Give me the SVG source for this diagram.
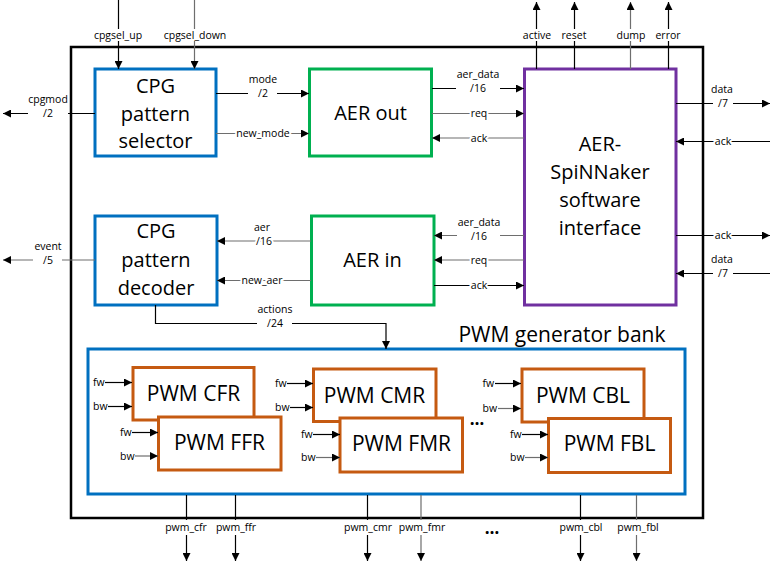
<svg xmlns="http://www.w3.org/2000/svg" width="772" height="562" viewBox="0 0 772 562">
<style>
.bx{fill:#fff;stroke-width:3}
.bl{stroke:#0070C0}.gr{stroke:#00B050}.pu{stroke:#7030A0}.or{stroke:#C55A11}
.big{font-family:"Open Sans",sans-serif;font-size:20px;text-anchor:middle;fill:#000}
.pw{font-size:21px}
.sm{font-family:"Open Sans",sans-serif;font-size:10.5px;text-anchor:middle;fill:#000}
.st{text-anchor:start}
.dots{font-size:17px;font-weight:bold}
.ko{stroke:#fff;stroke-width:4;paint-order:stroke;stroke-linejoin:round}
.ln{fill:none;stroke:#000;stroke-width:1.2}
.gy{stroke:#6e6e6e}
</style>
<defs>
<marker id="a" viewBox="0 0 10 10" refX="10" refY="5" markerWidth="9" markerHeight="8" orient="auto" markerUnits="userSpaceOnUse"><path d="M0,0 L10,5 L0,10 z" fill="#000"/></marker>
</defs>
<rect x="71" y="47" width="632" height="471" fill="#fff" stroke="#000" stroke-width="2.5"/>

<g id="bank">
<rect x="88" y="349" width="597" height="145" fill="none" stroke="#0070C0" stroke-width="3"/>
<text class="big" x="562" y="342" style="font-size:21px">PWM generator bank</text>
</g>

<g id="selector"><rect class="bx bl" x="95" y="69" width="121" height="87"/>
<text class="big" x="155.5" y="93">CPG</text><text class="big" x="155.5" y="121">pattern</text><text class="big" x="155.5" y="148">selector</text></g>
<g id="aerout"><rect class="bx gr" x="309.5" y="69" width="122" height="87"/>
<text class="big" x="370.5" y="120">AER out</text></g>
<g id="spinn"><rect class="bx pu" x="524.5" y="69" width="151.5" height="236"/>
<text class="big" x="600" y="151">AER-</text><text class="big" x="600" y="179">SpiNNaker</text><text class="big" x="600" y="207">software</text><text class="big" x="600" y="235">interface</text></g>
<g id="decoder"><rect class="bx bl" x="95" y="216" width="122" height="89"/>
<text class="big" x="156" y="238">CPG</text><text class="big" x="156" y="267">pattern</text><text class="big" x="156" y="295">decoder</text></g>
<g id="aerin"><rect class="bx gr" x="311.5" y="216" width="122.5" height="89"/>
<text class="big" x="372.5" y="267">AER in</text></g>

<g id="pwm_cfr"><rect class="bx or" x="133" y="367.5" width="121" height="52.5"/><text class="big pw" x="193.5" y="401">PWM CFR</text></g>
<g id="pwm_ffr"><rect class="bx or" x="158.5" y="417" width="122.5" height="53"/><text class="big pw" x="219.5" y="450">PWM FFR</text></g>
<g id="pwm_cmr"><rect class="bx or" x="313.5" y="369" width="122.5" height="52.5"/><text class="big pw" x="374.5" y="402.5">PWM CMR</text></g>
<g id="pwm_fmr"><rect class="bx or" x="340" y="418" width="122.5" height="54"/><text class="big pw" x="401.5" y="451">PWM FMR</text></g>
<g id="pwm_cbl"><rect class="bx or" x="522" y="369" width="122" height="53"/><text class="big pw" x="583" y="403">PWM CBL</text></g>
<g id="pwm_fbl"><rect class="bx or" x="548.5" y="418.5" width="122" height="54"/><text class="big pw" x="609.5" y="451">PWM FBL</text></g>

<g id="connectors">
<path class="ln" d="M118.5,0 V29 M118.5,41 V69" marker-end="url(#a)"/>
<text class="sm" x="118" y="39">cpgsel_up</text>
<path class="ln gy" d="M194.5,0 V29 M194.5,41 V69" marker-end="url(#a)"/>
<text class="sm" x="195" y="39">cpgsel_down</text>
<path class="ln" d="M95,113.5 H68 M28,113.5 H3" marker-end="url(#a)"/>
<text class="sm" x="48" y="103">cpgmod</text><text class="sm" x="48" y="117">/2</text>
<path class="ln" d="M216,93.5 H248 M277,93.5 H309" marker-end="url(#a)"/>
<text class="sm" x="263" y="83">mode</text><text class="sm" x="263" y="97">/2</text>
<path class="ln gy" d="M216,133.5 H309" marker-end="url(#a)"/>
<text class="sm ko" x="263" y="137">new_mode</text>
<path class="ln" d="M432,88.5 H456 M500,88.5 H524" marker-end="url(#a)"/>
<text class="sm" x="478" y="78">aer_data</text><text class="sm" x="478" y="92">/16</text>
<path class="ln gy" d="M432,113.5 H524" marker-end="url(#a)"/>
<text class="sm ko" x="479" y="117">req</text>
<path class="ln gy" d="M524,138 H432" marker-end="url(#a)"/>
<text class="sm ko" x="479" y="141.5">ack</text>
<path class="ln" d="M536.5,69 V41 M536.5,29 V2" marker-end="url(#a)"/>
<text class="sm" x="537" y="39">active</text>
<path class="ln" d="M574.5,69 V41 M574.5,29 V2" marker-end="url(#a)"/>
<text class="sm" x="574" y="39">reset</text>
<path class="ln gy" d="M630.5,69 V41 M630.5,29 V2" marker-end="url(#a)"/>
<text class="sm" x="631" y="39">dump</text>
<path class="ln" d="M668.5,69 V41 M668.5,29 V2" marker-end="url(#a)"/>
<text class="sm" x="668" y="39">error</text>
<path class="ln" d="M676,103.5 H713 M733,103.5 H770" marker-end="url(#a)"/>
<text class="sm" x="722" y="93">data</text><text class="sm" x="723" y="107">/7</text>
<path class="ln" d="M770,141.5 H676" marker-end="url(#a)"/>
<text class="sm ko" x="723" y="145">ack</text>
<path class="ln" d="M676,235.5 H770" marker-end="url(#a)"/>
<text class="sm ko" x="723" y="239">ack</text>
<path class="ln" d="M770,273.5 H733 M713,273.5 H676" marker-end="url(#a)"/>
<text class="sm" x="722" y="263">data</text><text class="sm" x="723" y="277">/7</text>
<path class="ln gy" d="M524,235.5 H500 M457,235.5 H434" marker-end="url(#a)"/>
<text class="sm" x="479" y="226">aer_data</text><text class="sm" x="479" y="240">/16</text>
<path class="ln gy" d="M524,260 H434" marker-end="url(#a)"/>
<text class="sm ko" x="479" y="263.5">req</text>
<path class="ln" d="M434,285.5 H524" marker-end="url(#a)"/>
<text class="sm ko" x="479" y="289">ack</text>
<path class="ln gy" d="M311,241 H217" marker-end="url(#a)"/>
<text class="sm" x="262" y="231">aer</text><text class="sm ko" x="264" y="245">/16</text>
<path class="ln gy" d="M311,280.5 H217" marker-end="url(#a)"/>
<text class="sm ko" x="262" y="284">new_aer</text>
<path class="ln gy" d="M95,260 H62 M33,260 H3" marker-end="url(#a)"/>
<text class="sm" x="48" y="250">event</text><text class="sm" x="48" y="264">/5</text>
<path class="ln" d="M155.5,305 V323.5 H257 M292,323.5 H386 V349" marker-end="url(#a)"/>
<text class="sm" x="275" y="313">actions</text><text class="sm" x="275" y="327">/24</text>
<path class="ln" d="M105,382.5 H132" marker-end="url(#a)"/><text class="sm st" x="93" y="386">fw</text>
<path class="ln" d="M108,406.5 H132" marker-end="url(#a)"/><text class="sm st" x="93" y="410">bw</text>
<path class="ln" d="M132,432.5 H158" marker-end="url(#a)"/><text class="sm st" x="120" y="436">fw</text>
<path class="ln gy" d="M135,456 H158" marker-end="url(#a)"/><text class="sm st" x="120" y="459.5">bw</text>
<path class="ln" d="M287,383.5 H313" marker-end="url(#a)"/><text class="sm st" x="275" y="387">fw</text>
<path class="ln" d="M290,407.5 H313" marker-end="url(#a)"/><text class="sm st" x="275" y="411">bw</text>
<path class="ln" d="M313,434.5 H340" marker-end="url(#a)"/><text class="sm st" x="301" y="438">fw</text>
<path class="ln gy" d="M316,457.5 H340" marker-end="url(#a)"/><text class="sm st" x="301" y="461">bw</text>
<path class="ln" d="M495,383.5 H521" marker-end="url(#a)"/><text class="sm st" x="482.5" y="387">fw</text>
<path class="ln gy" d="M498,408.5 H521" marker-end="url(#a)"/><text class="sm st" x="482.5" y="412">bw</text>
<path class="ln" d="M522,434.5 H548" marker-end="url(#a)"/><text class="sm st" x="510" y="438">fw</text>
<path class="ln gy" d="M525,457.5 H548" marker-end="url(#a)"/><text class="sm st" x="510" y="461">bw</text>
<text class="sm dots" x="477" y="425">…</text>
<path class="ln" d="M186.5,495 V520 M186.5,535 V561" marker-end="url(#a)"/><text class="sm" x="186" y="531">pwm_cfr</text>
<path class="ln" d="M235.5,495 V520 M235.5,535 V561" marker-end="url(#a)"/><text class="sm" x="236" y="531">pwm_ffr</text>
<path class="ln" d="M367.5,495 V520 M367.5,535 V561" marker-end="url(#a)"/><text class="sm" x="368" y="531">pwm_cmr</text>
<path class="ln gy" d="M421,495 V520 M421,535 V561" marker-end="url(#a)"/><text class="sm" x="422" y="531">pwm_fmr</text>
<path class="ln" d="M580.5,495 V520 M580.5,535 V561" marker-end="url(#a)"/><text class="sm" x="581" y="531">pwm_cbl</text>
<path class="ln gy" d="M636.5,495 V520 M636.5,535 V561" marker-end="url(#a)"/><text class="sm" x="638" y="531">pwm_fbl</text>
<text class="sm dots" x="492" y="534">…</text>
</g>
</svg>
